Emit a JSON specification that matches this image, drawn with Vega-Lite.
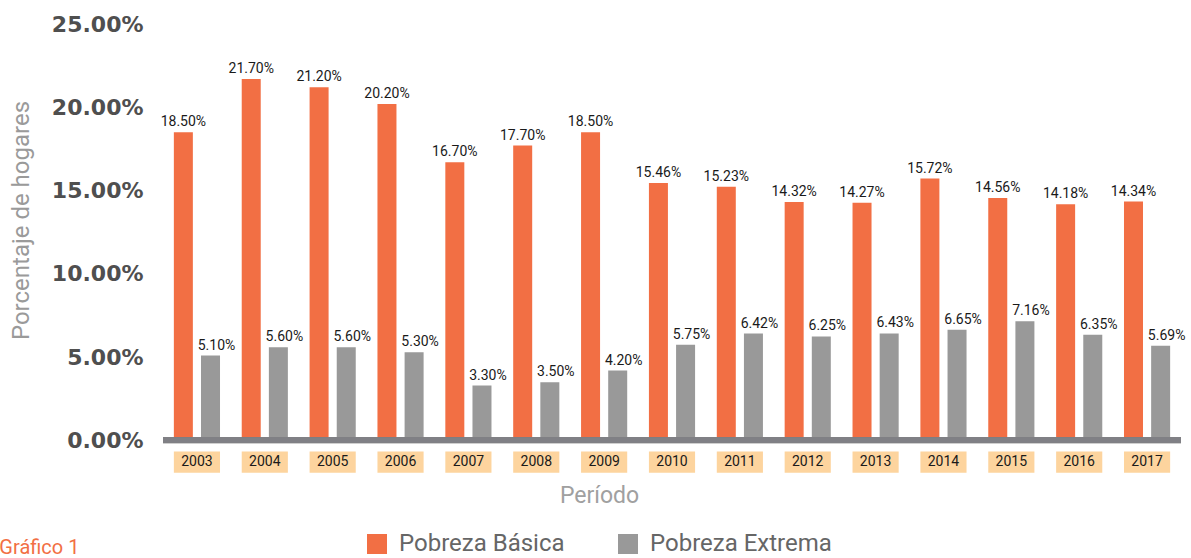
{
  "$schema": "https://vega.github.io/schema/vega-lite/v6.json",
  "width": 1018,
  "height": 449,
  "autosize": {"type": "none"},
  "padding": {"left": 163, "top": 24, "right": 10, "bottom": 85},
  "background": "white",
  "config": {"view": {"stroke": null}, "font": "Roboto"},
  "title": {"text": "Gráfico 1", "orient": "bottom", "anchor": "start", "frame": "bounds", "fontSize": 20, "fontWeight": "normal", "color": "#F26F44", "offset": -18, "dx": -10},
  "data": {"values": [
    {"year": "2003", "serie": "Pobreza Básica", "value": 0.1850},
    {"year": "2004", "serie": "Pobreza Básica", "value": 0.2170},
    {"year": "2005", "serie": "Pobreza Básica", "value": 0.2120},
    {"year": "2006", "serie": "Pobreza Básica", "value": 0.2020},
    {"year": "2007", "serie": "Pobreza Básica", "value": 0.1670},
    {"year": "2008", "serie": "Pobreza Básica", "value": 0.1770},
    {"year": "2009", "serie": "Pobreza Básica", "value": 0.1850},
    {"year": "2010", "serie": "Pobreza Básica", "value": 0.1546},
    {"year": "2011", "serie": "Pobreza Básica", "value": 0.1523},
    {"year": "2012", "serie": "Pobreza Básica", "value": 0.1432},
    {"year": "2013", "serie": "Pobreza Básica", "value": 0.1427},
    {"year": "2014", "serie": "Pobreza Básica", "value": 0.1572},
    {"year": "2015", "serie": "Pobreza Básica", "value": 0.1456},
    {"year": "2016", "serie": "Pobreza Básica", "value": 0.1418},
    {"year": "2017", "serie": "Pobreza Básica", "value": 0.1434},
    {"year": "2003", "serie": "Pobreza Extrema", "value": 0.0510},
    {"year": "2004", "serie": "Pobreza Extrema", "value": 0.0560},
    {"year": "2005", "serie": "Pobreza Extrema", "value": 0.0560},
    {"year": "2006", "serie": "Pobreza Extrema", "value": 0.0530},
    {"year": "2007", "serie": "Pobreza Extrema", "value": 0.0330},
    {"year": "2008", "serie": "Pobreza Extrema", "value": 0.0350},
    {"year": "2009", "serie": "Pobreza Extrema", "value": 0.0420},
    {"year": "2010", "serie": "Pobreza Extrema", "value": 0.0575},
    {"year": "2011", "serie": "Pobreza Extrema", "value": 0.0642},
    {"year": "2012", "serie": "Pobreza Extrema", "value": 0.0625},
    {"year": "2013", "serie": "Pobreza Extrema", "value": 0.0643},
    {"year": "2014", "serie": "Pobreza Extrema", "value": 0.0665},
    {"year": "2015", "serie": "Pobreza Extrema", "value": 0.0716},
    {"year": "2016", "serie": "Pobreza Extrema", "value": 0.0635},
    {"year": "2017", "serie": "Pobreza Extrema", "value": 0.0569}
  ]},
  "layer": [
    {
      "mark": {"type": "bar"},
      "encoding": {
        "x": {"field": "year", "type": "nominal", "scale": {"paddingInner": 0.32, "paddingOuter": 0.16},
          "axis": {"labels": false, "ticks": false, "domain": false, "title": "Período", "titleFontSize": 23, "titleFontWeight": "normal", "titleColor": "#a0a0a0", "titlePadding": 11, "titleX": 436, "titleAlign": "center"}},
        "xOffset": {"field": "serie", "type": "nominal", "scale": {"paddingInner": 0.3}},
        "y": {"field": "value", "type": "quantitative", "scale": {"domain": [-0.0195, 0.25], "nice": false},
          "axis": {"values": [0, 0.05, 0.1, 0.15, 0.2, 0.25], "format": ".2%", "grid": false, "domain": false, "ticks": false,
            "labelFont": "DejaVu Sans", "labelFontSize": 22, "labelFontWeight": "bold", "labelColor": "#4f4f4f", "labelPadding": 20,
            "title": "Porcentaje de hogares", "titleFontSize": 24, "titleFontWeight": "normal", "titleColor": "#9a9a9a", "titlePadding": 18, "titleY": 196}},
        "color": {"field": "serie", "type": "nominal", "scale": {"domain": ["Pobreza Básica", "Pobreza Extrema"], "range": ["#F26F44", "#999999"]},
          "legend": {"title": null, "orient": "none", "legendX": 202, "legendY": 508, "direction": "horizontal", "symbolType": "square", "symbolSize": 400, "symbolStrokeWidth": 0, "symbolOpacity": 1, "labelFontSize": 24, "labelColor": "#666666", "labelOffset": 10, "columnPadding": 51, "labelLimit": 300}}
      }
    },
    {
      "transform": [{"filter": "datum.serie === 'Pobreza Básica'"}],
      "mark": {"type": "text", "baseline": "bottom", "dy": -3, "fontSize": 14, "color": "#1a1a1a"},
      "encoding": {
        "x": {"field": "year", "type": "nominal"},
        "xOffset": {"field": "serie", "type": "nominal", "scale": {"paddingInner": 0.3}},
        "y": {"field": "value", "type": "quantitative"},
        "text": {"field": "value", "type": "quantitative", "format": ".2%"}
      }
    },
    {
      "transform": [{"filter": "datum.serie === 'Pobreza Extrema'"}],
      "mark": {"type": "text", "baseline": "bottom", "dy": -3, "dx": 6, "fontSize": 14, "color": "#1a1a1a"},
      "encoding": {
        "x": {"field": "year", "type": "nominal"},
        "xOffset": {"field": "serie", "type": "nominal", "scale": {"paddingInner": 0.3}},
        "y": {"field": "value", "type": "quantitative"},
        "text": {"field": "value", "type": "quantitative", "format": ".2%"}
      }
    },
    {
      "transform": [{"filter": "datum.serie === 'Pobreza Básica'"}],
      "mark": {"type": "bar", "color": "#FDD49E"},
      "encoding": {
        "x": {"field": "year", "type": "nominal"},
        "y": {"datum": -0.0066},
        "y2": {"datum": -0.0193}
      }
    },
    {
      "transform": [{"filter": "datum.serie === 'Pobreza Básica'"}],
      "mark": {"type": "text", "fontSize": 14, "color": "#1a1a1a", "baseline": "middle"},
      "encoding": {
        "x": {"field": "year", "type": "nominal"},
        "y": {"datum": -0.013},
        "text": {"field": "year", "type": "nominal"}
      }
    },
    {
      "mark": {"type": "rule", "color": "#cfcfcf", "strokeWidth": 1.5},
      "encoding": {"y": {"datum": -0.0017}}
    },
    {
      "mark": {"type": "rule", "color": "#808085", "strokeWidth": 5},
      "encoding": {"y": {"datum": 0.0002}}
    }
  ]
}
